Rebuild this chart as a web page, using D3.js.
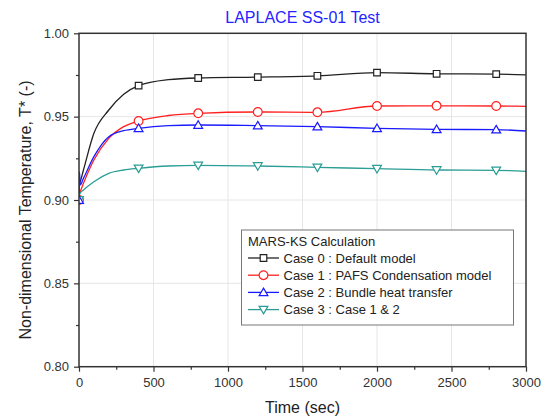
<!DOCTYPE html>
<html><head><meta charset="utf-8">
<script src="https://cdn.jsdelivr.net/npm/d3@7"></script>
<style>body{margin:0;background:#fff}svg{display:block;font-family:"Liberation Sans",Arial,sans-serif}</style>
</head><body><svg id="c" width="547" height="419"></svg>
<script>
const times   = [0, 3, 8, 30, 100, 200, 300, 400, 600, 800, 1200, 1600, 2000, 2400, 2800, 3000];
const case0   = [0.900, 0.910, 0.911, 0.918, 0.940, 0.954, 0.9635, 0.9686, 0.9722, 0.9732, 0.9737, 0.9745, 0.9764, 0.9757, 0.9755, 0.9751];
const case1   = [0.900, 0.904, 0.905, 0.910, 0.924, 0.937, 0.944, 0.9474, 0.9507, 0.9520, 0.9528, 0.9526, 0.9564, 0.9565, 0.9564, 0.9562];
const case2   = [0.900, 0.917, 0.909, 0.913, 0.926, 0.938, 0.9416, 0.9430, 0.9446, 0.9450, 0.9446, 0.9440, 0.9430, 0.9424, 0.9422, 0.9414];
const case3   = [0.900, 0.903, 0.904, 0.906, 0.911, 0.916, 0.918, 0.9190, 0.9204, 0.9208, 0.9204, 0.9196, 0.9188, 0.9180, 0.9178, 0.9172];
const seriesNames = ["Case 0 : Default model", "Case 1 : PAFS Condensation model", "Case 2 : Bundle heat transfer", "Case 3 : Case 1 & 2"];
const seriesColors = ["#222222", "#ff2020", "#1a1aff", "#2a9d95"];
const seriesSymbols = ["square", "circle", "triUp", "triDown"];
const markerStep = 400;
const xTicks = [0, 500, 1000, 1500, 2000, 2500, 3000];
const yTicks = [0.80, 0.85, 0.90, 0.95, 1.00];
const titleText = "LAPLACE SS-01 Test";
const xLabel = "Time (sec)";
const yLabel = "Non-dimensional Temperature, T* (-)";
const legendTitle = "MARS-KS Calculation";

const allSeries = [case0, case1, case2, case3];
const svg = d3.select("#c");
const L = 79, R = 526, T = 33.3, B = 366.7;
const x = d3.scaleLinear().domain([0, 3000]).range([L, R]);
const y = d3.scaleLinear().domain([0.80, 1.00]).range([B, T]);

svg.append("defs").append("clipPath").attr("id", "clip")
  .append("rect").attr("x", L).attr("y", T).attr("width", R - L).attr("height", B - T);

// grid
const g = svg.append("g");
g.selectAll(".gx").data(xTicks.slice(1, -1)).enter().append("line")
  .attr("x1", d => x(d)).attr("x2", d => x(d)).attr("y1", T).attr("y2", B)
  .attr("stroke", "#e6e6e6").attr("stroke-width", 1);
g.selectAll(".gy").data(yTicks.slice(1, -1)).enter().append("line")
  .attr("y1", d => y(d)).attr("y2", d => y(d)).attr("x1", L).attr("x2", R)
  .attr("stroke", "#e6e6e6").attr("stroke-width", 1);

// lines
const plot = svg.append("g").attr("clip-path", "url(#clip)");
const line = d3.line().x((d, i) => x(times[i])).y(d => y(d)).curve(d3.curveMonotoneX);
function symbolPath(kind) {
  if (kind === "square") return "M-3.3,-3.3h6.6v6.6h-6.6z";
  if (kind === "circle") return d3.symbol(d3.symbolCircle, 60)();
  if (kind === "triUp") return "M0,-4.3L4.4,3.3L-4.4,3.3Z";
  return "M0,4.3L4.4,-3.3L-4.4,-3.3Z";
}
allSeries.forEach((s, k) => {
  plot.append("path").attr("d", line(s)).attr("fill", "none")
    .attr("stroke", seriesColors[k]).attr("stroke-width", 1.3);
});
[0, 1, 3, 2].forEach(k => {
  const s = allSeries[k];
  const pts = s.map((v, i) => [times[i], v]).filter(p => p[0] % markerStep === 0 && p[0] < 3000);
  plot.append("g").selectAll("path").data(pts).enter().append("path")
    .attr("d", symbolPath(seriesSymbols[k]))
    .attr("transform", p => `translate(${x(p[0])},${y(p[1])})`)
    .attr("fill", "#fff").attr("stroke", seriesColors[k]).attr("stroke-width", 1.2);
});

// axes
const axCol = "#333";
const xAxis = svg.append("g").attr("transform", `translate(0,${B})`)
  .call(d3.axisBottom(x).tickValues(xTicks).tickSize(5).tickPadding(6).tickFormat(d3.format("d")));
const xMinor = svg.append("g").attr("transform", `translate(0,${B})`)
  .call(d3.axisBottom(x).tickValues(d3.range(250, 3000, 500)).tickSize(3).tickFormat(""));
const yAxis = svg.append("g").attr("transform", `translate(${L},0)`)
  .call(d3.axisLeft(y).tickValues(yTicks).tickSize(5).tickPadding(5).tickFormat(d3.format(".2f")));
const yMinor = svg.append("g").attr("transform", `translate(${L},0)`)
  .call(d3.axisLeft(y).tickValues([0.825, 0.875, 0.925, 0.975]).tickSize(3).tickFormat(""));
[xAxis, xMinor, yAxis, yMinor].forEach(a => {
  a.select(".domain").remove();
  a.selectAll("line").attr("stroke", axCol).attr("stroke-width", 1.2);
  a.selectAll("text").attr("font-size", 13).attr("fill", "#333").attr("font-family", "Liberation Sans, Arial, sans-serif");
});
svg.append("rect").attr("x", L).attr("y", T).attr("width", R - L).attr("height", B - T)
  .attr("fill", "none").attr("stroke", axCol).attr("stroke-width", 1.5);

// title & labels
svg.append("text").attr("x", (L + R) / 2).attr("y", 23).attr("text-anchor", "middle")
  .attr("font-size", 16).attr("fill", "#2424ff").text(titleText);
svg.append("text").attr("x", (L + R) / 2).attr("y", 413).attr("text-anchor", "middle")
  .attr("font-size", 16).attr("fill", "#222").text(xLabel);
svg.append("text").attr("transform", `translate(31,${(T + B) / 2 + 10}) rotate(-90)`).attr("text-anchor", "middle")
  .attr("font-size", 16).attr("fill", "#222").text(yLabel);

// legend
const lg = svg.append("g");
lg.append("rect").attr("x", 241.5).attr("y", 230).attr("width", 272).attr("height", 95)
  .attr("fill", "#fff").attr("stroke", "#777").attr("stroke-width", 1);
lg.append("text").attr("x", 248).attr("y", 245.5).attr("font-size", 13).attr("fill", "#222").text(legendTitle);
seriesNames.forEach((n, k) => {
  const yy = 258 + k * 17.2;
  lg.append("line").attr("x1", 248).attr("x2", 279).attr("y1", yy).attr("y2", yy)
    .attr("stroke", seriesColors[k]).attr("stroke-width", 1.3);
  lg.append("path").attr("d", symbolPath(seriesSymbols[k])).attr("transform", `translate(263.5,${yy})`)
    .attr("fill", "#fff").attr("stroke", seriesColors[k]).attr("stroke-width", 1.2);
  lg.append("text").attr("x", 283.5).attr("y", yy + 4.7).attr("font-size", 13).attr("fill", "#222").text(n);
});
</script></body></html>
